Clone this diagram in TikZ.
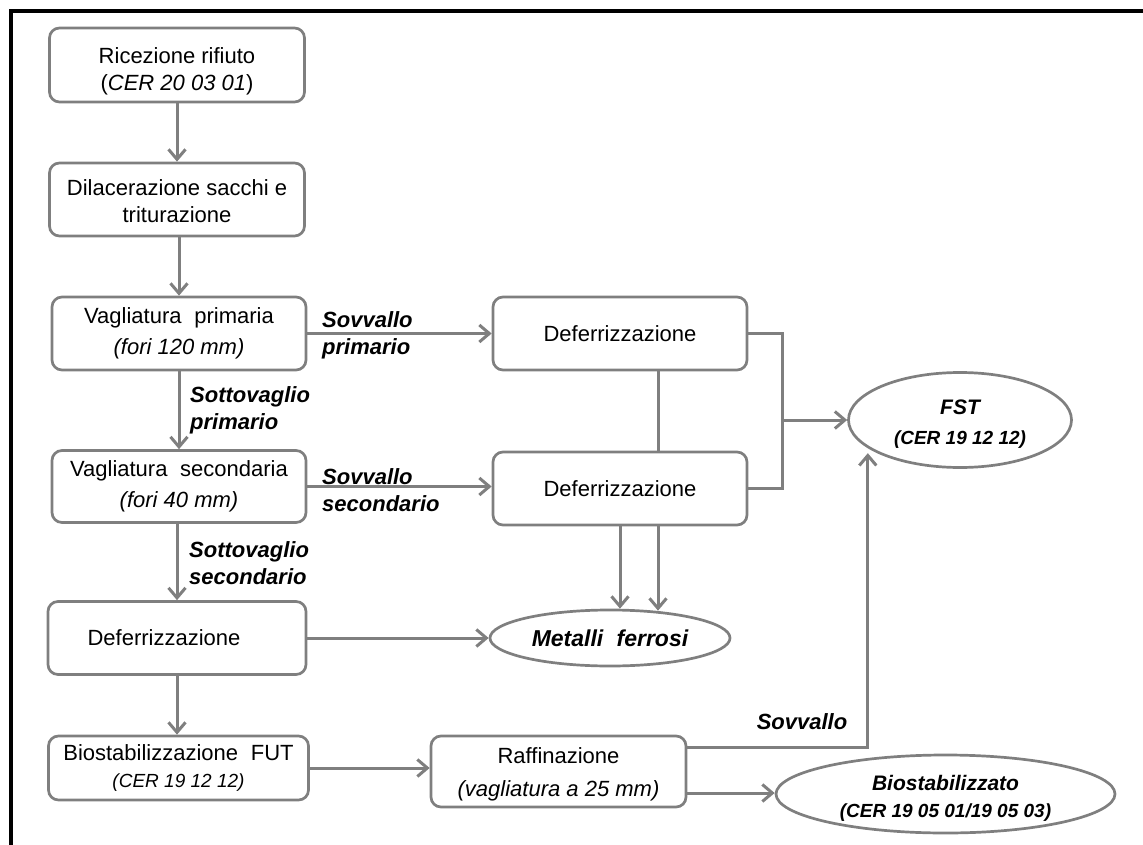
\documentclass[tikz,border=0pt]{standalone}
\usepackage{fontspec}
\setmainfont{Liberation Sans}
\usetikzlibrary{arrows.meta,shapes.geometric}
\definecolor{lgray}{HTML}{7F7F7F}
\begin{document}
\begin{tikzpicture}[x=1pt,y=-1pt,
  box/.style={draw=lgray,line width=2.7pt,rounded corners=10pt,align=center,inner sep=0pt,
    font=\fontsize{22}{27}\selectfont},
  ell/.style={ellipse,draw=lgray,line width=2.7pt,align=center,inner sep=0pt,
    font=\fontsize{21}{27}\selectfont\bfseries\itshape},
  conn/.style={draw=lgray,line width=3pt},
  arr/.style={conn,-{Straight Barb[length=10pt,width=17pt,line width=3pt]}},
  lbl/.style={font=\fontsize{22}{27}\selectfont\bfseries\itshape,align=left,inner sep=0pt}]
\useasboundingbox (0,0) rectangle (1143,845);
% frame
\draw[line width=4pt] (10.5,845) -- (10.5,11.5) -- (1143,11.5);

% left column
\node[box,minimum width=255pt,minimum height=74pt] (b1) at (177,65) {\raisebox{0pt}[28pt]{Ricezione rifiuto}\\(\textit{CER 20 03 01})};
\node[box,minimum width=255pt,minimum height=73pt] (b2) at (177,199.5) {\raisebox{0pt}[20pt]{Dilacerazione sacchi e}\\triturazione};
\node[box,minimum width=254pt,minimum height=73pt] (b3) at (179,333.5) {Vagliatura\hspace{0.3em} primaria\\[4pt]\textit{(fori 120 mm)}};
\node[box,minimum width=254pt,minimum height=72pt] (b4) at (179,486.5) {Vagliatura\hspace{0.3em} secondaria\\[4pt]\textit{(fori 40 mm)}};
\node[box,minimum width=258pt,minimum height=73pt] (b5) at (177,638) {\hspace*{-26pt}Deferrizzazione};
\node[box,minimum width=260pt,minimum height=64pt] (b6) at (178.5,768) {Biostabilizzazione\hspace{0.3em} FUT\\{\fontsize{19}{22}\selectfont\textit{(CER 19 12 12)}}};

% middle
\node[box,minimum width=254pt,minimum height=73pt] (d1) at (620,333.5) {Deferrizzazione};
\node[box,minimum width=254pt,minimum height=73pt] (d2) at (620,488.5) {Deferrizzazione};
\node[box,minimum width=255pt,minimum height=71pt] (raf) at (558.5,771.5) {\raisebox{0pt}[22pt]{Raffinazione}\\[6pt]\textit{(vagliatura a 25 mm)}};

% ellipses
\node[ell,minimum width=223pt,minimum height=95pt] (fst) at (960,420) {\raisebox{0pt}[22pt]{FST}\\[3pt]{\fontsize{19}{24}\selectfont (CER 19 12 12)}};
\node[ell,minimum width=240pt,minimum height=56pt,font=\fontsize{23}{27}\selectfont\bfseries\itshape] (met) at (610,638) {Metalli\hspace{0.3em} ferrosi};
\node[ell,minimum width=339pt,minimum height=78pt] (bio) at (945.5,794) {\raisebox{0pt}[24pt]{Biostabilizzato}\\{\fontsize{19}{24}\selectfont (CER 19 05 01/19 05 03)}};

% labels
\node[lbl,anchor=west] (l1) at (322,335) {Sovvallo\\primario};
\node[lbl,anchor=west] (l2) at (322,490) {Sovvallo\\secondario};
\node[lbl,anchor=west] (l3) at (190,410) {Sottovaglio\\primario};
\node[lbl,anchor=west] (l4) at (189,563) {Sottovaglio\\secondario};
\node[lbl] (l5) at (802,722) {Sovvallo};

% connectors
\draw[arr] (b1) -- (b2);
\draw[arr] (b2.south -| b3.north) -- (b3.north);
\draw[arr] (b3) -- (b4);
\draw[arr] (b4.south -| b5.north) -- (b5.north);
\draw[arr] (b5) -- (b5 |- b6.north);
\draw[arr] (b3) -- (d1);
\draw[arr] (b4.east) -- (b4.east -| d2.west);
\draw[arr] (b5) -- (met);
\draw[arr] (b6.east) -- (b6.east -| raf.west);

\draw[conn] ([xshift=38pt]d1.south) -- ([xshift=38pt]d2.north);
\draw[arr] (d2.south) -- (d2.south |- met.north);
\draw[arr] ([xshift=38pt]d2.south) -- ([xshift=38pt,yshift=-2pt]d2.south |- met.north);

\coordinate (jn) at (782,420);
\draw[conn] (d1.east) -| (jn) |- (d2.east);
\draw[arr] (jn) -- (fst.west);

\draw[arr,shorten >=5pt] ([yshift=24.5pt]raf.east) -| (fst.197);
\draw[arr] ([yshift=-21.5pt]raf.east) -- ([yshift=-21.5pt]raf.east -| bio.west);
\end{tikzpicture}
\end{document}
